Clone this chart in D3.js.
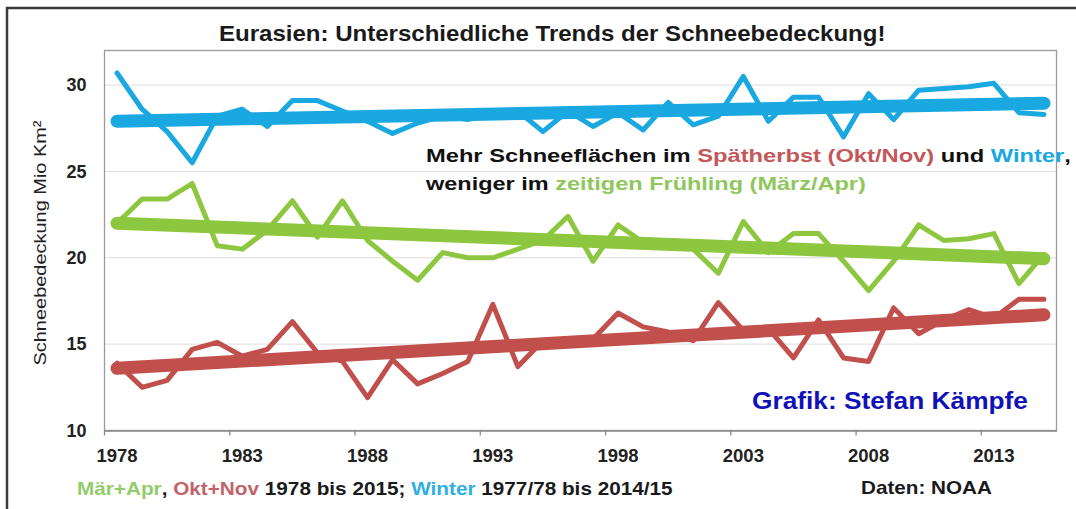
<!DOCTYPE html>
<html>
<head>
<meta charset="utf-8">
<script src="https://cdn.jsdelivr.net/npm/d3@7"></script>
<style>
  html, body { margin: 0; padding: 0; background: #fff; }
  svg { display: block; }
  text { font-family: "Liberation Sans", Arial, sans-serif; }
</style>
</head>
<body>
<script>
// Schneebedeckung Eurasien, Mio km², 1978..2015
const years = d3.range(1978, 2016);

const winter = [30.7, 28.6, 27.3, 25.5, 28.2, 28.6, 27.6, 29.1, 29.1, 28.5,
  27.9, 27.2, 27.8, 28.2, 28.0, 28.3, 28.5, 27.3, 28.5, 27.6,
  28.4, 27.4, 29.0, 27.7, 28.2, 30.5, 27.9, 29.3, 29.3, 27.0,
  29.5, 28.0, 29.7, 29.8, 29.9, 30.1, 28.4, 28.3];

const maerzApr = [22.0, 23.4, 23.4, 24.3, 20.7, 20.5, 21.6, 23.3, 21.2, 23.3,
  21.0, 19.8, 18.7, 20.3, 20.0, 20.0, 20.5, 21.0, 22.4, 19.8,
  21.9, 20.9, 20.8, 20.5, 19.1, 22.1, 20.3, 21.4, 21.4, 19.8,
  18.1, 19.8, 21.9, 21.0, 21.1, 21.4, 18.5, 20.2];

const oktNov = [13.9, 12.5, 12.9, 14.7, 15.1, 14.3, 14.7, 16.3, 14.5, 14.0,
  11.9, 14.1, 12.7, 13.3, 14.0, 17.3, 13.7, 15.2, 15.2, 15.3,
  16.8, 16.0, 15.7, 15.2, 17.4, 15.8, 15.9, 14.2, 16.4, 14.2,
  14.0, 17.1, 15.6, 16.4, 17.0, 16.5, 17.6, 17.6];

// Trendlinien: Wert 1978 und Wert 2015
const trendWinter = [27.9, 28.95];
const trendMaerzApr = [22.0, 19.95];
const trendOktNov = [13.6, 16.7];

const yTicks = [10, 15, 20, 25, 30];
const gridTicks = [15, 20, 25, 30];
const labelYears = [1978, 1983, 1988, 1993, 1998, 2003, 2008, 2013];

const colBlue = "#1aa8e0", colGreen = "#8dc63f", colRed = "#c14f4c";

const W = 1076, H = 509;
const svg = d3.select("body").append("svg").attr("width", W).attr("height", H);

svg.append("rect").attr("width", W).attr("height", H).attr("fill", "#fff");
// outer frame
svg.append("rect").attr("x", 7).attr("y", 8).attr("width", W + 20).attr("height", H + 20)
  .attr("fill", "none").attr("stroke", "#3a3a3a").attr("stroke-width", 2.5);

const pLeft = 104.5, pRight = 1056.5, pTop = 50.5, pBottom = 430.5;

const x = d3.scaleBand().domain(years).range([pLeft, pRight]).padding(0);
const bw = x.bandwidth();
const cx = yr => x(yr) + bw / 2;
const y = d3.scaleLinear().domain([10, 32]).range([pBottom, pTop]);

// gridlines
svg.append("g").selectAll("line").data(gridTicks).join("line")
  .attr("x1", pLeft).attr("x2", pRight)
  .attr("y1", d => y(d)).attr("y2", d => y(d))
  .attr("stroke", "#dcdcdc").attr("stroke-width", 1);

// plot frame
svg.append("rect").attr("x", pLeft).attr("y", pTop)
  .attr("width", pRight - pLeft).attr("height", pBottom - pTop)
  .attr("fill", "none").attr("stroke", "#9a9a9a").attr("stroke-width", 1.3);

// y axis
const yAxis = svg.append("g").attr("transform", `translate(${pLeft},0)`)
  .call(d3.axisLeft(y).tickValues(yTicks).tickSize(0).tickPadding(18));
yAxis.select(".domain").remove();
yAxis.selectAll("text")
  .style("font-family", "'Liberation Sans', Arial, sans-serif")
  .style("font-size", "18px").style("font-weight", "bold").attr("fill", "#222");

// x axis
const xAxis = svg.append("g").attr("transform", `translate(0,${pBottom})`)
  .call(d3.axisBottom(x).tickValues(labelYears).tickSize(0).tickPadding(18));
xAxis.select(".domain").attr("stroke", "#8a8a8a").attr("stroke-width", 1.5);
xAxis.selectAll("text")
  .style("font-family", "'Liberation Sans', Arial, sans-serif")
  .style("font-size", "18.5px").style("font-weight", "bold").attr("fill", "#222");
svg.append("g").selectAll("line").data(labelYears).join("line")
  .attr("x1", d => x(d)).attr("x2", d => x(d))
  .attr("y1", pBottom).attr("y2", pBottom + 5)
  .attr("stroke", "#8a8a8a").attr("stroke-width", 1.3);

// data lines
const line = d3.line().x((d, i) => cx(years[i])).y(d => y(d));
[[winter, colBlue], [maerzApr, colGreen], [oktNov, colRed]].forEach(([s, c]) => {
  svg.append("path").attr("d", line(s)).attr("fill", "none")
    .attr("stroke", c).attr("stroke-width", 5)
    .attr("stroke-linejoin", "round").attr("stroke-linecap", "round");
});

// trend lines
const yr0 = years[0], yr1 = years[years.length - 1];
[[trendWinter, colBlue], [trendMaerzApr, colGreen], [trendOktNov, colRed]].forEach(([t, c]) => {
  svg.append("line")
    .attr("x1", cx(yr0)).attr("y1", y(t[0]))
    .attr("x2", cx(yr1)).attr("y2", y(t[1]))
    .attr("stroke", c).attr("stroke-width", 13).attr("stroke-linecap", "round");
});

// stretch a text element horizontally to a given width
function fit(t, x0, w) {
  const bb = t.node().getBBox().width;
  const k = w / bb;
  t.attr("transform", `translate(${x0},0) scale(${k},1) translate(${-x0},0)`);
}

// title
const title = svg.append("text").attr("x", 219).attr("y", 41)
  .style("font-size", "22px").style("font-weight", "bold").attr("fill", "#1a1a1a")
  .text("Eurasien: Unterschiedliche Trends der Schneebedeckung!");
fit(title, 219, 667);

// y axis title
svg.append("text")
  .attr("transform", "translate(46,243) rotate(-90)")
  .attr("text-anchor", "middle")
  .attr("textLength", 245).attr("lengthAdjust", "spacingAndGlyphs")
  .style("font-size", "17px").attr("fill", "#222")
  .text("Schneebedeckung Mio Km²");

// annotation
const a1 = svg.append("text").attr("x", 426).attr("y", 162)
  .style("font-size", "19px").style("font-weight", "bold").attr("fill", "#111");
a1.append("tspan").text("Mehr Schneeflächen im ");
a1.append("tspan").attr("fill", "#c4575a").text("Spätherbst (Okt/Nov)");
a1.append("tspan").text(" und ");
a1.append("tspan").attr("fill", colBlue).text("Winter");
a1.append("tspan").text(",");
fit(a1, 426, 644);

const a2 = svg.append("text").attr("x", 426).attr("y", 190)
  .style("font-size", "19px").style("font-weight", "bold").attr("fill", "#111");
a2.append("tspan").text("weniger im ");
a2.append("tspan").attr("fill", "#8fc75c").text("zeitigen Frühling (März/Apr)");
fit(a2, 426, 441);

// author
const g = svg.append("text").attr("x", 752).attr("y", 409)
  .style("font-size", "23px").style("font-weight", "bold").attr("fill", "#1111b8")
  .text("Grafik: Stefan Kämpfe");
fit(g, 752, 276);

// footer
const f = svg.append("text").attr("x", 77).attr("y", 495)
  .style("font-size", "18px").style("font-weight", "bold").attr("fill", "#1a1a1a");
f.append("tspan").attr("fill", "#93cc6a").text("Mär+Apr");
f.append("tspan").text(", ");
f.append("tspan").attr("fill", "#c4626a").text("Okt+Nov");
f.append("tspan").text(" 1978 bis 2015; ");
f.append("tspan").attr("fill", "#2eb0e2").text("Winter");
f.append("tspan").text(" 1977/78 bis 2014/15");
fit(f, 77, 595);

const d = svg.append("text").attr("x", 861).attr("y", 494)
  .style("font-size", "18px").style("font-weight", "bold").attr("fill", "#1a1a1a")
  .text("Daten: NOAA");
fit(d, 861, 131);
</script>
</body>
</html>
